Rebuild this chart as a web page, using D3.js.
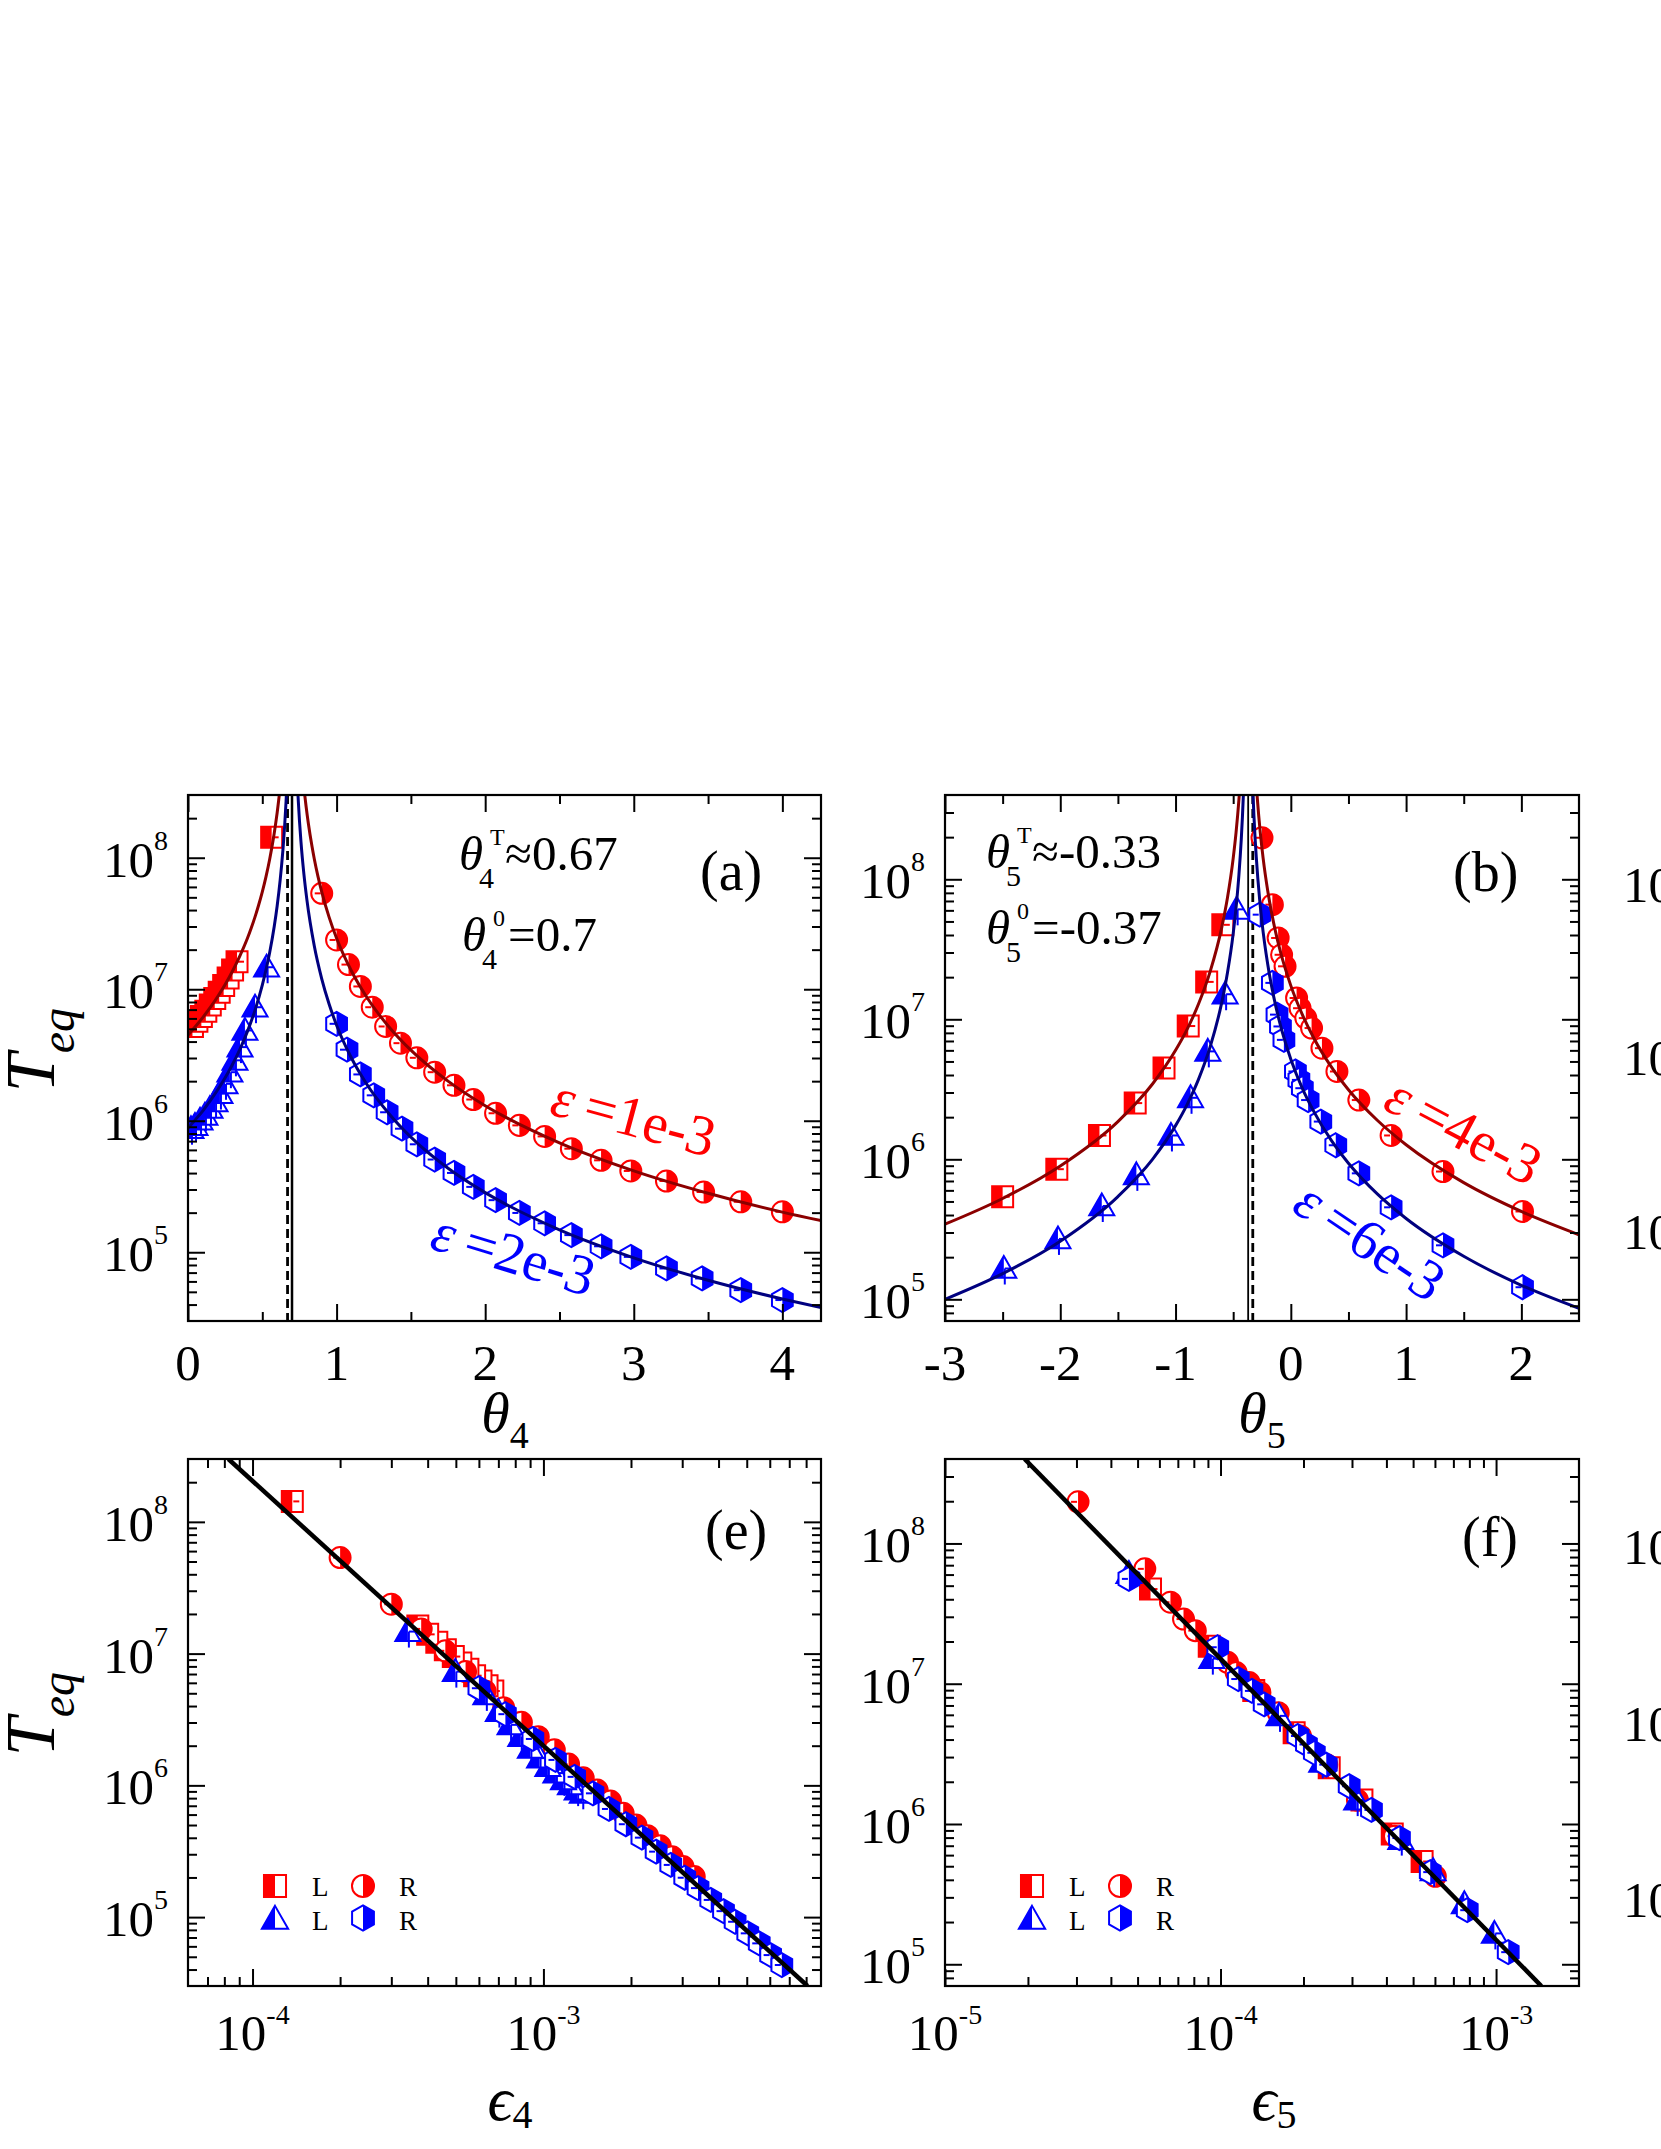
<!DOCTYPE html>
<html><head><meta charset="utf-8">
<script src="https://cdn.jsdelivr.net/npm/d3@7/dist/d3.min.js"></script>
<style>
body{margin:0;background:#fff}
svg{display:block}
text{font-family:"Liberation Serif","Times New Roman",serif;fill:#000}
</style>
</head><body>
<svg id="chart" width="1661" height="2149"></svg>
<script>
// ---------------- DATA ----------------
// Panel (a): theta_4, eps=1e-3 (red) and eps=2e-3 (blue)
const thetaA_redL = [0.03,0.06,0.09,0.12,0.15,0.18,0.21,0.24,0.27,0.30,0.33,0.563];
const teqA_redL   = [5.2e6,5.7e6,6.2e6,6.8e6,7.6e6,8.5e6,9.5e6,1.07e7,1.22e7,1.4e7,1.62e7,1.43e8];
const thetaA_redR = [0.90,1.00,1.08,1.16,1.24,1.33,1.43,1.54,1.66,1.79,1.92,2.07,2.23,2.40,2.58,2.78,2.98,3.22,3.47,3.72,4.00];
const teqA_redR   = [5.36e7,2.37e7,1.54e7,1.05e7,7.3e6,5.21e6,3.89e6,3.01e6,2.34e6,1.86e6,1.45e6,1.14e6,9.22e5,7.6e5,6.13e5,5.0e5,4.15e5,3.48e5,2.87e5,2.42e5,2.03e5];
const thetaA_bluL = [0.02,0.047,0.081,0.114,0.148,0.182,0.215,0.249,0.282,0.316,0.350,0.383,0.451,0.529];
const teqA_bluL   = [8.7e5,9.2e5,1.01e6,1.10e6,1.24e6,1.39e6,1.61e6,1.91e6,2.34e6,2.88e6,3.63e6,4.86e6,7.3e6,1.47e7];
const thetaA_bluR = [1.00,1.07,1.16,1.25,1.34,1.44,1.54,1.66,1.79,1.92,2.07,2.23,2.40,2.58,2.78,2.98,3.22,3.46,3.72,4.00];
const teqA_bluR   = [5.46e6,3.47e6,2.25e6,1.56e6,1.16e6,8.7e5,6.62e5,5.07e5,4.01e5,3.14e5,2.49e5,1.99e5,1.66e5,1.35e5,1.11e5,9.22e4,7.53e4,6.32e4,5.15e4,4.33e4];
// fit curves (a)
const fitA_redL = [[0,4.49e6],[0.05,5.21e6],[0.1,6.11e6],[0.15,7.27e6],[0.2,8.8e6],[0.25,1.086e7],[0.3,1.375e7],[0.35,1.8e7],[0.4,2.44e7],[0.425,2.91e7],[0.45,3.52e7],[0.475,4.35e7],[0.5,5.5e7],[0.525,7.18e7],[0.55,9.78e7],[0.565,1.21e8],[0.58,1.53e8],[0.59,1.82e8],[0.6,2.2e8],[0.605,2.44e8],[0.615,3.04e8]];
const fitA_redR = [[0.785,3.04e8],[0.795,2.44e8],[0.81,1.82e8],[0.835,1.21e8],[0.85,9.78e7],[0.875,7.18e7],[0.9,5.5e7],[0.95,3.52e7],[1.0,2.44e7],[1.1,1.375e7],[1.2,8.8e6],[1.35,5.21e6],[1.5,3.44e6],[1.75,2.0e6],[2.0,1.3e6],[2.5,6.79e5],[3.0,4.16e5],[3.5,2.81e5],[4.0,2.02e5],[4.26,1.74e5]];
const fitA_bluL = [[0,8.78e5],[0.05,1.02e6],[0.1,1.19e6],[0.15,1.42e6],[0.2,1.72e6],[0.25,2.12e6],[0.3,2.69e6],[0.35,3.51e6],[0.4,4.78e6],[0.45,6.88e6],[0.5,1.075e7],[0.55,1.91e7],[0.58,2.99e7],[0.6,4.3e7],[0.62,6.72e7],[0.63,8.78e7],[0.64,1.19e8],[0.65,1.72e8],[0.66,2.69e8],[0.665,3.51e8]];
const fitA_bluR = [[0.735,3.92e8],[0.74,3.0e8],[0.75,1.92e8],[0.76,1.33e8],[0.78,7.5e7],[0.8,4.8e7],[0.85,2.13e7],[0.9,1.2e7],[0.95,7.68e6],[1.0,5.33e6],[1.1,3.0e6],[1.2,1.92e6],[1.35,1.14e6],[1.5,7.5e5],[1.75,4.35e5],[2.0,2.84e5],[2.5,1.48e5],[3.0,9.07e4],[3.5,6.12e4],[4.0,4.41e4],[4.26,3.79e4]];

// Panel (b): theta_5, eps=4e-3 (red) and eps=6e-3 (blue)
const thetaB_redL = [-2.50,-2.03,-1.66,-1.35,-1.10,-0.89,-0.73,-0.59];
const teqB_redL   = [5.4e5,8.5e5,1.48e6,2.52e6,4.48e6,8.95e6,1.85e7,4.73e7];
const thetaB_bluL = [-2.49,-2.02,-1.64,-1.34,-1.04,-0.87,-0.72,-0.57,-0.47];
const teqB_bluL   = [1.66e5,2.70e5,4.64e5,7.74e5,1.48e6,2.75e6,5.9e6,1.51e7,6.1e7];
const thetaB_redR = [-0.25,-0.16,-0.11,-0.08,-0.05,0.05,0.08,0.13,0.18,0.27,0.40,0.59,0.87,1.32,2.01];
const teqB_redR   = [1.98e8,6.59e7,3.81e7,2.89e7,2.39e7,1.42e7,1.20e7,1.02e7,8.66e6,6.22e6,4.24e6,2.65e6,1.48e6,8.18e5,4.24e5];
const thetaB_bluR = [-0.27,-0.16,-0.12,-0.09,-0.06,0.04,0.07,0.10,0.15,0.26,0.39,0.59,0.87,1.32,2.01];
const teqB_bluR   = [5.59e7,1.82e7,1.08e7,8.89e6,7.13e6,4.24e6,3.69e6,3.22e6,2.65e6,1.86e6,1.26e6,7.94e5,4.54e5,2.43e5,1.22e5];
const fitB_redL = [[-3,3.44e5],[-2.5,5.25e5],[-2,8.96e5],[-1.5,1.86e6],[-1.2,3.45e6],[-1,6.0e6],[-0.9,8.47e6],[-0.8,1.29e7],[-0.7,2.19e7],[-0.6,4.5e7],[-0.55,7.35e7],[-0.5,1.41e8],[-0.475,2.16e8],[-0.45,3.72e8],[-0.445,4.23e8]];
const fitB_redR = [[-0.295,4.23e8],[-0.29,3.72e8],[-0.265,2.16e8],[-0.24,1.41e8],[-0.2,8.24e7],[-0.15,4.92e7],[-0.1,3.26e7],[0,1.74e7],[0.1,1.08e7],[0.2,7.33e6],[0.35,4.59e6],[0.5,3.14e6],[0.75,1.9e6],[1.0,1.27e6],[1.5,6.81e5],[2.0,4.24e5],[2.5,2.89e5]];
const fitB_bluL = [[-3,1.0e5],[-2.5,1.525e5],[-2,2.6e5],[-1.5,5.42e5],[-1.2,1.0e6],[-1,1.74e6],[-0.9,2.46e6],[-0.8,3.74e6],[-0.7,6.35e6],[-0.6,1.31e7],[-0.55,2.14e7],[-0.5,4.09e7],[-0.47,6.92e7],[-0.45,1.08e8],[-0.43,1.92e8],[-0.42,2.77e8],[-0.41,4.3e8]];
const fitB_bluR = [[-0.33,4.44e8],[-0.32,2.84e8],[-0.31,1.97e8],[-0.3,1.45e8],[-0.27,7.1e7],[-0.25,4.93e7],[-0.2,2.46e7],[-0.15,1.47e7],[-0.1,9.74e6],[0,5.19e6],[0.1,3.21e6],[0.2,2.19e6],[0.35,1.37e6],[0.5,9.38e5],[0.75,5.66e5],[1.0,3.78e5],[1.5,2.03e5],[2.0,1.26e5],[2.5,8.62e4]];

// Panel (e): scaled distance epsilon_4 (same T_eq values as panel a)
const eps4_redL = [6.7e-4,6.4e-4,6.1e-4,5.8e-4,5.5e-4,5.2e-4,4.9e-4,4.6e-4,4.3e-4,4.0e-4,3.7e-4,1.37e-4];
const eps4_redR = [2.0e-4,3.0e-4,3.8e-4,4.6e-4,5.4e-4,6.3e-4,7.3e-4,8.4e-4,9.6e-4,1.09e-3,1.22e-3,1.37e-3,1.53e-3,1.70e-3,1.88e-3,2.08e-3,2.28e-3,2.52e-3,2.77e-3,3.02e-3,3.30e-3];
const eps4_bluL = [1.36e-3,1.306e-3,1.238e-3,1.172e-3,1.104e-3,1.036e-3,9.7e-4,9.02e-4,8.36e-4,7.68e-4,7.0e-4,6.34e-4,4.98e-4,3.42e-4];
const eps4_bluR = [6.0e-4,7.4e-4,9.2e-4,1.10e-3,1.28e-3,1.48e-3,1.68e-3,1.92e-3,2.18e-3,2.44e-3,2.74e-3,3.06e-3,3.40e-3,3.76e-3,4.16e-3,4.56e-3,5.04e-3,5.52e-3,6.04e-3,6.6e-3];
const fitE = [[8.26e-5,3e8],[8.09e-3,3e4]];

// Panel (f): scaled distance epsilon_5 (same T_eq values as panel b)
const eps5_redL = [5.39e-4,4.20e-4,3.26e-4,2.48e-4,1.85e-4,1.32e-4,9.1e-5,5.57e-5];
const eps5_bluL = [9.86e-4,7.67e-4,5.91e-4,4.51e-4,3.12e-4,2.33e-4,1.63e-4,9.3e-5,4.65e-5];
const eps5_redR = [3.04e-5,5.31e-5,6.58e-5,7.34e-5,8.1e-5,1.06e-4,1.14e-4,1.27e-4,1.39e-4,1.62e-4,1.95e-4,2.43e-4,3.14e-4,4.28e-4,6.02e-4];
const eps5_bluR = [4.65e-5,9.77e-5,1.16e-4,1.30e-4,1.44e-4,1.91e-4,2.05e-4,2.19e-4,2.42e-4,2.93e-4,3.53e-4,4.46e-4,5.77e-4,7.86e-4,1.107e-3];
const fitF = [[1.945e-5,4e8],[1.46e-3,7e4]];

// Ticks
const xMajorA = [0,1,2,3,4], xMinorA = [0.5,1.5,2.5,3.5];
const xMajorB = [-3,-2,-1,0,1,2], xMinorB = [-2.5,-1.5,-0.5,0.5,1.5];
const xMajorE = [1e-4,1e-3], xMajorF = [1e-5,1e-4,1e-3];
const yExps = [5,6,7,8];
const refLinesA = {dashed:0.67, solid:0.70};
const refLinesB = {dashed:-0.33, solid:-0.37};

// ---------------- DRAW ----------------
const svg = d3.select('#chart');
const RED='#ff0000', BLUE='#0000ff', DRED='#8b0000', DBLUE='#00007f';

function logMinors(domain){
  const out=[]; const lo=Math.floor(Math.log10(domain[0])), hi=Math.ceil(Math.log10(domain[1]));
  for(let k=lo;k<=hi;k++) for(let m=2;m<=9;m++){const v=m*Math.pow(10,k); if(v>domain[0]*1.0001 && v<domain[1]*0.9999) out.push(v);}
  return out;
}

function setup(id, box, xType, xDom, yDom){
  const x=(xType==='log'?d3.scaleLog():d3.scaleLinear()).domain(xDom).range([box.x0,box.x1]);
  const y=d3.scaleLog().domain(yDom).range([box.y1,box.y0]);
  svg.append('clipPath').attr('id','clip'+id).append('rect')
    .attr('x',box.x0).attr('y',box.y0).attr('width',box.x1-box.x0).attr('height',box.y1-box.y0);
  const plot=svg.append('g').attr('clip-path',`url(#clip${id})`);
  return {id,box,x,y,xDom,yDom,xType,plot};
}

function ticks(P, xMaj, xMin){
  const b=P.box;
  const yMaj=yExps.map(e=>Math.pow(10,e)).filter(v=>v>=P.yDom[0]&&v<=P.yDom[1]);
  const yMin=logMinors(P.yDom);
  const mk=(gen,scale,vals,size,tr)=>{
    const a=svg.append('g').attr('transform',tr).call(gen(scale).tickValues(vals).tickSize(size).tickFormat(''));
    a.select('.domain').remove();
    a.selectAll('line').attr('stroke','#000').attr('stroke-width',2);
  };
  [[xMaj,-17],[xMin,-9]].forEach(([v,s])=>{
    mk(d3.axisBottom,P.x,v,s,`translate(0,${b.y1})`);
    mk(d3.axisTop,P.x,v,s,`translate(0,${b.y0})`);
  });
  [[yMaj,-17],[yMin,-9]].forEach(([v,s])=>{
    mk(d3.axisLeft,P.y,v,s,`translate(${b.x0},0)`);
    mk(d3.axisRight,P.y,v,s,`translate(${b.x1},0)`);
  });
  svg.append('rect').attr('x',b.x0).attr('y',b.y0).attr('width',b.x1-b.x0).attr('height',b.y1-b.y0)
    .attr('fill','none').attr('stroke','#000').attr('stroke-width',2.2);
  // y labels
  yMaj.forEach(v=>{
    const t=svg.append('text').attr('x',b.x0-20).attr('y',P.y(v)+19).attr('text-anchor','end').attr('font-size',51);
    t.append('tspan').text('10');
    t.append('tspan').attr('font-size',28).attr('dy',-27).text(String(Math.round(Math.log10(v))));
  });
  // x labels
  xMaj.forEach(v=>{
    if(P.xType==='log'){
      const t=svg.append('text').attr('x',P.x(v)).attr('y',b.y1+64).attr('text-anchor','middle').attr('font-size',51);
      t.append('tspan').text('10');
      t.append('tspan').attr('font-size',28).attr('dy',-26).text(String(Math.round(Math.log10(v))));
    } else {
      svg.append('text').attr('x',P.x(v)).attr('y',b.y1+59).attr('text-anchor','middle').attr('font-size',51).text(String(v));
    }
  });
}

function marker(g, type, cx, cy, color, sc){
  const k=sc||1, r=10.5*k; let outline, half;
  if(type==='square'){
    outline=`M${cx-r},${cy-r}H${cx+r}V${cy+r}H${cx-r}Z`;
    half=`M${cx-r},${cy-r}H${cx}V${cy+r}H${cx-r}Z`;
  } else if(type==='circle'){
    outline=`M${cx-r},${cy}A${r},${r} 0 1,1 ${cx+r},${cy}A${r},${r} 0 1,1 ${cx-r},${cy}Z`;
    half=`M${cx},${cy-r}A${r},${r} 0 0,1 ${cx},${cy+r}Z`;
  } else if(type==='triangle'){
    const h=12.5*k;
    outline=`M${cx},${cy-h}L${cx+h},${cy+h*0.75}L${cx-h},${cy+h*0.75}Z`;
    half=`M${cx},${cy-h}L${cx},${cy+h*0.75}L${cx-h},${cy+h*0.75}Z`;
  } else {
    const R=12*k, w=R*0.866;
    outline=`M${cx},${cy-R}L${cx+w},${cy-R/2}L${cx+w},${cy+R/2}L${cx},${cy+R}L${cx-w},${cy+R/2}L${cx-w},${cy-R/2}Z`;
    half=`M${cx},${cy-R}L${cx+w},${cy-R/2}L${cx+w},${cy+R/2}L${cx},${cy+R}Z`;
  }
  g.append('path').attr('d',outline).attr('fill','#fff').attr('stroke',color).attr('stroke-width',2);
  g.append('path').attr('d',half).attr('fill',color);
  if(sc) return;
  // small error bar dash in the open half
  const openLeft=(type==='circle'||type==='hexagon');
  g.append('line').attr('x1',openLeft?cx-7:cx+1).attr('x2',openLeft?cx-1:cx+7)
    .attr('y1',cy).attr('y2',cy).attr('stroke',color).attr('stroke-width',2);
  if(type==='triangle'){
    g.append('line').attr('x1',cx+1).attr('x2',cx+1).attr('y1',cy).attr('y2',cy+16).attr('stroke',color).attr('stroke-width',2);
  }
}

function points(P, xs, ys, type, color){
  const data=xs.map((v,i)=>[v,ys[i]]);
  P.plot.append('g').selectAll('g').data(data).join('g')
    .each(function(d){ marker(d3.select(this), type, P.x(d[0]), P.y(d[1]), color); });
}
function curve(P, pts, color, w){
  const line=d3.line().x(d=>P.x(d[0])).y(d=>P.y(d[1])).curve(d3.curveMonotoneX);
  P.plot.append('path').datum(pts).attr('d',line).attr('fill','none').attr('stroke',color).attr('stroke-width',w);
}
function vline(P, v, dashed, w){
  P.plot.append('line').attr('x1',P.x(v)).attr('x2',P.x(v)).attr('y1',P.box.y0).attr('y2',P.box.y1)
    .attr('stroke','#000').attr('stroke-width',w).attr('stroke-dasharray',dashed?'9,5':null);
}
function legend(P){
  const b=P.box, g=svg.append('g');
  marker(g,'square',b.x0+87,1886,RED,1.05);
  marker(g,'circle',b.x0+175,1886,RED,1.05);
  marker(g,'triangle',b.x0+87,1919,BLUE,1.05);
  marker(g,'hexagon',b.x0+175,1918,BLUE,1.05);
  [[124,1896,'L'],[211,1896,'R'],[124,1930,'L'],[211,1930,'R']].forEach(([dx,y,s])=>{
    svg.append('text').attr('x',b.x0+dx).attr('y',y).attr('font-size',27).text(s);
  });
}
function label(x,y,s){ svg.append('text').attr('x',x).attr('y',y).attr('font-size',56).text(s); }

// ----- Panel (a)
const A=setup('a',{x0:188,x1:821,y0:795,y1:1321},'lin',[0,4.26],[3e4,3e8]);
vline(A,refLinesA.dashed,true,2.8); vline(A,refLinesA.solid,false,2.5);
points(A,thetaA_redL,teqA_redL,'square',RED);
points(A,thetaA_redR,teqA_redR,'circle',RED);
points(A,thetaA_bluL,teqA_bluL,'triangle',BLUE);
points(A,thetaA_bluR,teqA_bluR,'hexagon',BLUE);
curve(A,fitA_redL,DRED,3); curve(A,fitA_redR,DRED,3);
curve(A,fitA_bluL,DBLUE,3); curve(A,fitA_bluR,DBLUE,3);
ticks(A,xMajorA,xMinorA);
label(700,890,'(a)');

// ----- Panel (b)
const B=setup('b',{x0:945,x1:1579,y0:795,y1:1321},'lin',[-3,2.5],[7e4,4e8]);
vline(B,refLinesB.solid,false,1.8); vline(B,refLinesB.dashed,true,2.8);
points(B,thetaB_redL,teqB_redL,'square',RED);
points(B,thetaB_bluL,teqB_bluL,'triangle',BLUE);
points(B,thetaB_redR,teqB_redR,'circle',RED);
points(B,thetaB_bluR,teqB_bluR,'hexagon',BLUE);
curve(B,fitB_redL,DRED,3); curve(B,fitB_redR,DRED,3);
curve(B,fitB_bluL,DBLUE,3); curve(B,fitB_bluR,DBLUE,3);
ticks(B,xMajorB,xMinorB);
label(1453,891,'(b)');

// ----- Panel (e)
const E=setup('e',{x0:188,x1:821,y0:1459,y1:1986},'log',[6e-5,9e-3],[3e4,3e8]);
points(E,eps4_redL,teqA_redL,'square',RED);
points(E,eps4_redR,teqA_redR,'circle',RED);
points(E,eps4_bluL,teqA_bluL,'triangle',BLUE);
points(E,eps4_bluR,teqA_bluR,'hexagon',BLUE);
E.plot.append('path').datum(fitE).attr('d',d3.line().x(d=>E.x(d[0])).y(d=>E.y(d[1]))).attr('stroke','#000').attr('stroke-width',4.5).attr('fill','none');
ticks(E,xMajorE,logMinors([6e-5,9e-3]));
legend(E);
label(705,1549,'(e)');

// ----- Panel (f)
const F=setup('f',{x0:945,x1:1579,y0:1459,y1:1986},'log',[1e-5,2e-3],[7e4,4e8]);
points(F,eps5_redL,teqB_redL,'square',RED);
points(F,eps5_redR,teqB_redR,'circle',RED);
points(F,eps5_bluL,teqB_bluL,'triangle',BLUE);
points(F,eps5_bluR,teqB_bluR,'hexagon',BLUE);
F.plot.append('path').datum(fitF).attr('d',d3.line().x(d=>F.x(d[0])).y(d=>F.y(d[1]))).attr('stroke','#000').attr('stroke-width',4.5).attr('fill','none');
ticks(F,xMajorF,logMinors([1e-5,2e-3]));
legend(F);
label(1462,1556,'(f)');

// ----- axis titles
function yTitle(cy){
  const t=svg.append('text').attr('transform',`translate(54,${cy}) rotate(-90)`).attr('text-anchor','middle').attr('font-size',70).attr('font-style','italic');
  t.append('tspan').text('T');
  t.append('tspan').attr('font-size',48).attr('dy',20).text('eq');
}
yTitle(1050); yTitle(1714);
function xTitle(cx, y, sym, sub, size, subSize, subDy){
  const t=svg.append('text').attr('x',cx).attr('y',y).attr('text-anchor','middle').attr('font-size',size);
  t.append('tspan').attr('font-style','italic').text(sym);
  t.append('tspan').attr('font-size',subSize).attr('dy',subDy).text(sub);
}
xTitle(505,1432,'θ','4',58,38,16);
xTitle(1262,1432,'θ','5',58,38,16);
xTitle(510,2120,'ϵ','4',62,40,8);
xTitle(1274,2120,'ϵ','5',62,40,8);

// ----- annotations
function thetaNote(x,y,sub,sup,rest){
  svg.append('text').attr('x',x).attr('y',y).attr('font-size',49).attr('font-style','italic').text('θ');
  svg.append('text').attr('x',x+20).attr('y',y+18).attr('font-size',30).text(sub);
  svg.append('text').attr('x',x+31).attr('y',y-25).attr('font-size',24).text(sup);
  svg.append('text').attr('x',x+46).attr('y',y).attr('font-size',49).text(rest);
}
thetaNote(459,870,'4','T','≈0.67');
thetaNote(462,951,'4','0','=0.7');
thetaNote(986,868,'5','T','≈-0.33');
thetaNote(986,944,'5','0','=-0.37');

function epsNote(x,y,ang,color,rest){
  const t=svg.append('text').attr('transform',`translate(${x},${y}) rotate(${ang})`).attr('font-size',57).style('fill',color);
  t.append('tspan').attr('font-style','italic').text('ε');
  t.append('tspan').text('\u2009=' + rest);
}
epsNote(548,1114,15,RED,'1e-3');
epsNote(428,1248,17,BLUE,'2e-3');
epsNote(1381,1108,28,RED,'4e-3');
epsNote(1290,1210,34,BLUE,'6e-3');

// ----- partially visible labels of the next column (cut by the figure edge)
[[902,8],[1075,7],[1249,6],[1564,8],[1741,7],[1917,6]].forEach(([y,e])=>{
  const t=svg.append('text').attr('x',1623).attr('y',y).attr('font-size',51);
  t.append('tspan').text('10');
  t.append('tspan').attr('font-size',28).attr('dy',-27).text(String(e));
});
</script>
</body></html>
